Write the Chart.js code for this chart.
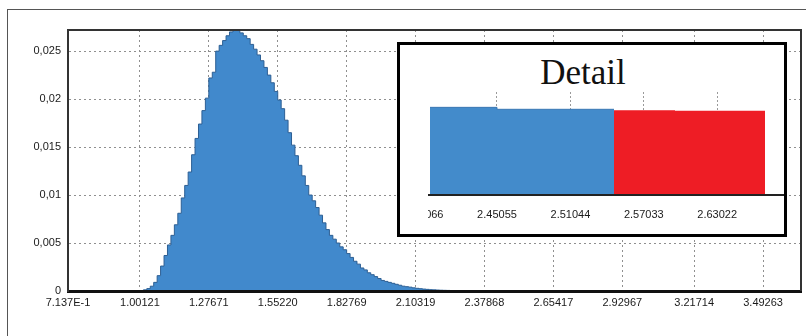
<!DOCTYPE html>
<html>
<head>
<meta charset="utf-8">
<script src="https://cdn.jsdelivr.net/npm/chart.js@4"></script>
<style>
  body { margin: 0; background: #fff; width: 806px; height: 336px; overflow: hidden; position: relative; font-family: "Liberation Sans", Arial, sans-serif; }
  #frame { position: absolute; left: 7px; top: 9px; width: 810px; height: 340px; border: 1px solid #555; }
  #main { position: absolute; left: 0; top: 0; width: 806px; height: 336px; }
  #detail { position: absolute; left: 397px; top: 42px; width: 390px; height: 195px; box-sizing: border-box; border: 3px solid #000; background: #fff; }
  #detailTitle { position: absolute; left: 483px; top: 55px; width: 200px; text-align: center; font-family: "Liberation Serif", "Times New Roman", serif; font-size: 35px; line-height: 1; color: #111; }
  #detailClip { position: absolute; left: 428px; top: 86px; width: 356px; height: 148px; overflow: hidden; }
  #detailWrap { position: absolute; left: -28px; top: 0; width: 384px; height: 148px; }
</style>
</head>
<body>
<div id="frame"></div>
<div id="main"><canvas id="chart"></canvas></div>
<div id="detail"></div>
<div id="detailTitle">Detail</div>
<div id="detailClip"><div id="detailWrap"><canvas id="detailChart"></canvas></div></div>
<script>
// histogram bins (left edge of first bin, bin width) and density per bin
const binStart = 1.00121;
const binWidth = 0.013775;
const density = [
    0.00003, 0.00012, 0.00025, 0.0005, 0.0009, 0.0016, 0.0026, 0.0037, 0.0048, 0.0058,
    0.0069, 0.0081, 0.0097, 0.0110, 0.0124, 0.0142, 0.0159, 0.0174, 0.0188, 0.0201,
    0.0222, 0.0228, 0.0250, 0.0256, 0.0261, 0.0266, 0.0270, 0.0272, 0.0272, 0.0269,
    0.0266, 0.0263, 0.0257, 0.0252, 0.0246, 0.0240, 0.0233, 0.0225, 0.0217, 0.0208,
    0.0199, 0.0190, 0.0178, 0.0165, 0.0152, 0.0141, 0.0131, 0.0120, 0.0110, 0.0100,
    0.0094, 0.0087, 0.0079, 0.0071, 0.0064, 0.0058, 0.0054, 0.0050, 0.0046, 0.0043,
    0.0039, 0.0035, 0.0031, 0.0028, 0.0024, 0.0022, 0.0019, 0.0017, 0.0015, 0.0013,
    0.0011, 0.0010, 0.0009, 0.0008, 0.0007, 0.0006, 0.0005, 0.00045, 0.0004, 0.00033,
    0.00028, 0.00024, 0.0002, 0.00017, 0.00014, 0.00012, 0.0001, 0.00008, 0.00007, 0.00006,
    0.00005, 0.00004, 0.00003, 0.00003, 0.00002, 0.00002, 0.00001
];
const xTickLabels = ['7.137E-1', '1.00121', '1.27671', '1.55220', '1.82769', '2.10319', '2.37868', '2.65417', '2.92967', '3.21714', '3.49263'];
const yTickValues = [0, 0.005, 0.01, 0.015, 0.02, 0.025];
const yTickLabels = ['0', '0,005', '0,01', '0,015', '0,02', '0,025'];

// detail inset
const detailTickLabels = ['2.39066', '2.45055', '2.51044', '2.57033', '2.63022'];
const detailBlueEdges = [2.39588, 2.45055, 2.54602];
const detailBlueValues = [0.0000851, 0.0000832];
const detailRedEdges = [2.54602, 2.59580, 2.66924];
const detailRedValues = [0.0000822, 0.0000818];

const tickFont = { family: '"Liberation Sans", Arial, sans-serif', size: 11 };

function histPoints() {
    let pts = [{ x: binStart, y: 0 }];
    density.forEach((d, i) => pts.push({ x: binStart + i * binWidth, y: d }));
    pts.push({ x: binStart + density.length * binWidth, y: 0 });
    return pts;
}

function stepPoints(edges, values) {
    return edges.map((e, i) => ({ x: e, y: values[Math.min(i, values.length - 1)] }));
}

const framePlugin = {
    id: 'frame',
    afterDraw(chart) {
        const a = chart.chartArea;
        const ctx = chart.ctx;
        ctx.save();
        ctx.strokeStyle = '#333';
        ctx.lineWidth = 2;
        ctx.beginPath();
        ctx.moveTo(a.left, a.bottom);
        ctx.lineTo(a.left, a.top);
        ctx.lineTo(a.right, a.top);
        ctx.lineTo(a.right, a.bottom);
        ctx.stroke();
        ctx.restore();
    }
};

// no extra room for edge labels, the boxes are placed by hand
function noPad(s, h) {
    s.height = h;
    s.paddingLeft = 0;
    s.paddingRight = 0;
}

function createChart() {
    new Chart(document.getElementById('chart'), {
        type: 'line',
        data: {
            datasets: [{
                data: histPoints(),
                stepped: true,
                fill: 'origin',
                backgroundColor: '#4189cc',
                borderColor: '#2d5f94',
                borderWidth: 1,
                pointRadius: 0
            }]
        },
        options: {
            responsive: true,
            maintainAspectRatio: false,
            animation: false,
            layout: { padding: { top: 30, right: 5, left: 0, bottom: 0 } },
            plugins: { legend: { display: false }, tooltip: { enabled: false } },
            scales: {
                x: {
                    type: 'linear',
                    min: 0.7137,
                    max: 3.6442,
                    afterBuildTicks: (s) => { s.ticks = xTickLabels.map(l => ({ value: parseFloat(l) })); },
                    afterFit: (s) => noPad(s, 45),
                    ticks: {
                        autoSkip: false, maxRotation: 0, padding: 5, color: '#1a1a1a', font: tickFont,
                        callback: (v, i) => xTickLabels[i]
                    },
                    grid: { color: '#8f8f8f', drawTicks: false },
                    border: { color: '#111', width: 3, dash: [2, 3], z: 1 }
                },
                y: {
                    min: 0,
                    max: 0.0272,
                    afterBuildTicks: (s) => { s.ticks = yTickValues.map(v => ({ value: v })); },
                    afterFit: (s) => { s.width = 68; },
                    ticks: {
                        padding: 7, color: '#1a1a1a', font: tickFont,
                        callback: (v, i) => yTickLabels[i]
                    },
                    grid: { color: '#8f8f8f', drawTicks: false },
                    border: { color: '#333', width: 2, dash: [2, 3], z: 1 }
                }
            }
        },
        plugins: [framePlugin]
    });

    new Chart(document.getElementById('detailChart'), {
        type: 'line',
        data: {
            datasets: [{
                data: stepPoints(detailBlueEdges, detailBlueValues),
                stepped: true,
                fill: 'origin',
                backgroundColor: '#438bcb',
                borderColor: '#3a78b4',
                borderWidth: 1,
                pointRadius: 0
            }, {
                data: stepPoints(detailRedEdges, detailRedValues),
                stepped: true,
                fill: 'origin',
                backgroundColor: '#ee1d25',
                borderColor: '#ee1d25',
                borderWidth: 0,
                pointRadius: 0
            }]
        },
        options: {
            responsive: true,
            maintainAspectRatio: false,
            animation: false,
            layout: { padding: { top: 6, right: 0, left: 0, bottom: 0 } },
            plugins: { legend: { display: false }, tooltip: { enabled: false } },
            scales: {
                x: {
                    type: 'linear',
                    min: 2.37140,
                    max: 2.68474,
                    afterBuildTicks: (s) => { s.ticks = detailTickLabels.map(l => ({ value: parseFloat(l) })); },
                    afterFit: (s) => noPad(s, 39),
                    ticks: {
                        autoSkip: false, maxRotation: 0, padding: 13, color: '#1a1a1a', font: tickFont,
                        callback: (v, i) => detailTickLabels[i]
                    },
                    grid: { color: '#9a9a9a', drawTicks: false },
                    border: { color: '#222', width: 2, dash: [2, 2], z: 1 }
                },
                y: {
                    display: false,
                    min: 0,
                    max: 0.0001
                }
            }
        }
    });
}

createChart();
</script>
</body>
</html>
